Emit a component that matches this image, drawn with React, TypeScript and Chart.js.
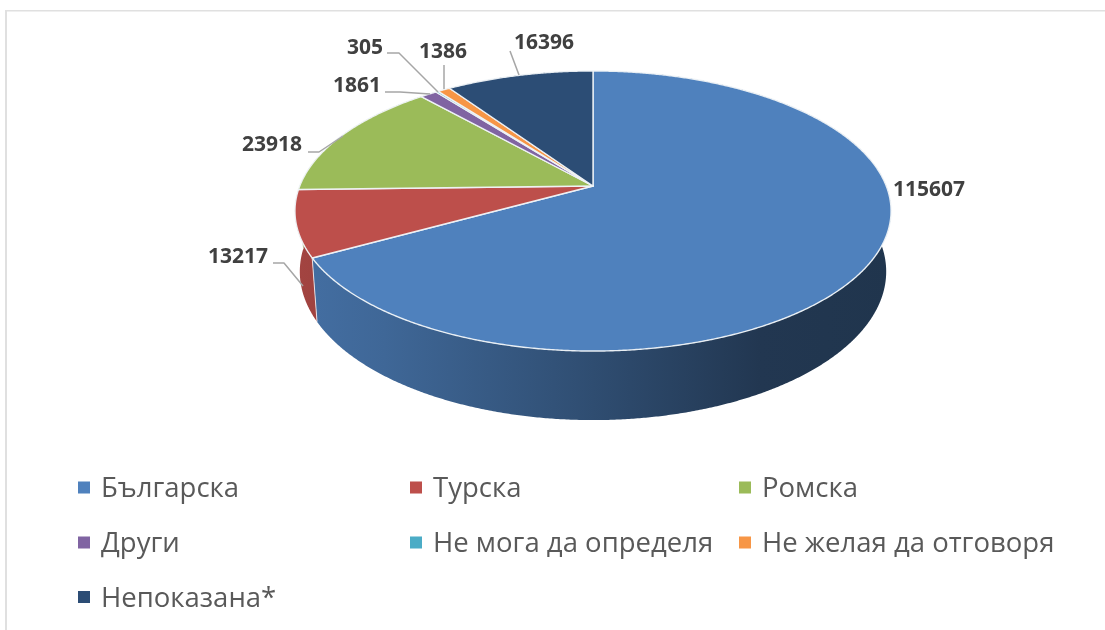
import React, { useEffect, useRef } from "react";
import { Chart, registerables } from "chart.js";

Chart.register(...registerables);

const categories = ["Българска", "Турска", "Ромска", "Други", "Не мога да определя", "Не желая да отговоря", "Непоказана*"];
const values = [115607, 13217, 23918, 1861, 305, 1386, 16396];
const colors = ["#4f81bd", "#bd4f4b", "#9bbb59", "#8064a2", "#4bacc6", "#f79646", "#2c4d75"];

// Label anchor (left x, middle y) and leader polyline per slice: layout only.
const labelAnchors: [number, number][] = [[893, 190], [208, 257], [242, 145], [333, 86], [347, 48], [419, 52], [514, 43]];
const leaders: [number, number][][] = [
  [],
  [[273, 263], [284, 263], [303, 286]],
  [[308, 152], [319, 152], [343, 136]],
  [[385, 92], [400, 92], [430, 94]],
  [[387, 53], [399, 53], [438, 92]],
  [[444, 65], [444, 89]],
  [[510, 51], [519, 75]],
];
const legendCols = [78, 410, 739];
const legendRows = [488, 543, 597.5];

const FONT = '"Open Sans", "Noto Sans", sans-serif';
const C = -0.1786; // perspective foreshortening
const K = 0.016; // depth of the cylinder in homogeneous units
const VY = 3964; // vanishing point of the vertical edges
const SX = 2.55;
const SY = 0.89;

function hexRgb(h: string) {
  return [1, 3, 5].map((i) => parseInt(h.slice(i, i + 2), 16));
}

const pie3d = {
  id: "pie3d",
  beforeDatasetsDraw(chart: any) {
    const ctx: CanvasRenderingContext2D = chart.ctx;
    const arcs = chart.getDatasetMeta(0).data;
    const cx = arcs[0].x, cy = arcs[0].y, r = arcs[0].outerRadius;
    const proj = (angle: number, depth: number) => {
      const t = angle + Math.PI / 2;
      const u = Math.sin(t), v = -Math.cos(t);
      const w = 1 + C * v + depth * K;
      return [cx + (SX * r * u) / w, (cy + SY * r * v + depth * K * VY) / w];
    };
    const rim = (a0: number, a1: number, depth: number) => {
      const n = Math.max(2, Math.ceil(Math.abs(a1 - a0) / 0.006));
      const pts: number[][] = [];
      for (let i = 0; i <= n; i++) pts.push(proj(a0 + ((a1 - a0) * i) / n, depth));
      return pts;
    };

    // chart frame
    ctx.save();
    ctx.fillStyle = "#e0e0e0";
    ctx.fillRect(6, 10, 1099, 1.5);
    ctx.fillRect(5, 10, 2, 620);
    ctx.restore();

    // side walls
    const x0 = cx - SX * r * 1.016, x1 = cx + SX * r * 1.016;
    const stops: [number, number][] = [[0, 0.86], [0.15, 0.8], [0.5, 0.6], [0.78, 0.43], [1, 0.41]];
    arcs.forEach((arc: any, i: number) => {
      const rgb = hexRgb(colors[i]);
      const g = ctx.createLinearGradient(x0, 0, x1, 0);
      stops.forEach(([p, f]) => g.addColorStop(p, `rgb(${rgb.map((c) => Math.round(c * f)).join(",")})`));
      const top = rim(arc.startAngle, arc.endAngle, 0);
      const bottom = rim(arc.startAngle, arc.endAngle, 1).reverse();
      ctx.beginPath();
      [...top, ...bottom].forEach((p, k) => (k ? ctx.lineTo(p[0], p[1]) : ctx.moveTo(p[0], p[1])));
      ctx.closePath();
      ctx.fillStyle = g;
      ctx.fill();
      ctx.strokeStyle = "rgba(255,255,255,0.75)";
      ctx.lineWidth = 1;
      ctx.beginPath();
      ctx.moveTo(top[0][0], top[0][1]);
      ctx.lineTo(bottom[bottom.length - 1][0], bottom[bottom.length - 1][1]);
      ctx.stroke();
    });

    // top faces
    arcs.forEach((arc: any, i: number) => {
      ctx.beginPath();
      ctx.moveTo(cx, cy);
      rim(arc.startAngle, arc.endAngle, 0).forEach((p) => ctx.lineTo(p[0], p[1]));
      ctx.closePath();
      ctx.fillStyle = colors[i];
      ctx.fill();
      ctx.strokeStyle = "rgba(240,244,248,0.95)";
      ctx.lineWidth = 1.4;
      ctx.lineJoin = "round";
      ctx.stroke();
    });

    // leaders and value labels
    ctx.strokeStyle = "#a6a6a6";
    ctx.lineWidth = 1.5;
    leaders.forEach((pts) => {
      if (!pts.length) return;
      ctx.beginPath();
      pts.forEach((p, k) => (k ? ctx.lineTo(p[0], p[1]) : ctx.moveTo(p[0], p[1])));
      ctx.stroke();
    });
    ctx.font = `bold 21px ${FONT}`;
    ctx.fillStyle = "#404040";
    ctx.textBaseline = "middle";
    ctx.textAlign = "left";
    chart.data.datasets[0].data.forEach((val: number, i: number) => {
      ctx.fillText(String(val), labelAnchors[i][0], labelAnchors[i][1] + 0.5);
    });

    // legend
    ctx.font = `27.5px ${FONT}`;
    chart.data.labels.forEach((label: string, i: number) => {
      const col = legendCols[i % 3];
      const row = legendRows[Math.floor(i / 3)];
      ctx.fillStyle = colors[i];
      ctx.fillRect(col, row - 6.5, 12, 12);
      ctx.fillStyle = "#595959";
      ctx.fillText(label, col + 23, row + 1.5);
    });
    return false;
  },
};

export default function App() {
  const ref = useRef<HTMLCanvasElement>(null);
  useEffect(() => {
    const chart = new Chart(ref.current!, {
      type: "pie",
      data: {
        labels: categories,
        datasets: [{ data: values, backgroundColor: colors, borderWidth: 0 }],
      },
      options: {
        responsive: false,
        animation: false,
        layout: { padding: { left: 295, right: 214, top: 71, bottom: 329 } },
        plugins: { legend: { display: false }, tooltip: { enabled: false } },
      },
      plugins: [pie3d],
    } as any);
    return () => chart.destroy();
  }, []);
  return (
    <div style={{ position: "absolute", left: 0, top: 0 }}>
      <canvas ref={ref} width={1105} height={630} style={{ display: "block" }} />
    </div>
  );
}
